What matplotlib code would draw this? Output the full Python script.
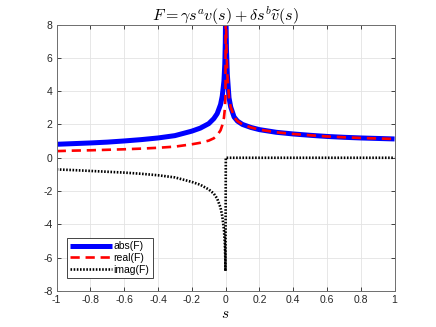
import numpy as np
import matplotlib
matplotlib.use("Agg")
import matplotlib.pyplot as plt

# ===============================
# data
# ===============================
s_left = [-1.0, -0.9, -0.8, -0.7, -0.6, -0.5, -0.4, -0.3, -0.2, -0.15, -0.1,
          -0.07, -0.05, -0.03, -0.02, -0.01, -0.005, -0.002, -0.001]
abs_left = [0.81, 0.85, 0.89, 0.94, 1.01, 1.09, 1.19, 1.33, 1.6, 1.78, 2.05,
            2.35, 2.65, 3.2, 3.7, 4.6, 5.6, 6.9, 7.9]
real_left = [0.40, 0.43, 0.45, 0.48, 0.51, 0.55, 0.60, 0.67, 0.81, 0.90, 1.03,
             1.17, 1.35, 1.65, 1.95, 2.4, 2.9, 3.5, 3.95]
imag_left = [-0.70, -0.74, -0.79, -0.84, -0.89, -0.96, -1.05, -1.18, -1.45,
             -1.62, -1.9, -2.15, -2.45, -3.0, -3.5, -4.3, -5.1, -6.0, -6.8]

s_right = [0.001, 0.002, 0.005, 0.01, 0.02, 0.03, 0.05, 0.07, 0.1, 0.15, 0.2,
           0.3, 0.4, 0.5, 0.6, 0.7, 0.8, 0.9, 1.0]
abs_right = [10.0, 8.4, 6.5, 5.0, 3.6, 3.05, 2.45, 2.2, 2.0, 1.82, 1.69,
             1.53, 1.43, 1.35, 1.28, 1.23, 1.19, 1.16, 1.13]
real_right = abs_right
imag_right = [0.0] * len(s_right)

s = np.array(s_left + s_right)
absF = np.array(abs_left + abs_right)
realF = np.array(real_left + real_right)
imagF = np.array(imag_left + imag_right)

xticks = np.round(np.arange(-1, 1.01, 0.2), 1)
xticklabels = ['-1', '-0.8', '-0.6', '-0.4', '-0.2', '0', '0.2', '0.4', '0.6', '0.8', '1']
yticks = np.arange(-8, 9, 2)

# ===============================
# plot (MATLAB-like look)
# ===============================
plt.rcParams['mathtext.fontset'] = 'cm'
plt.rcParams['axes.unicode_minus'] = False
plt.rcParams['font.family'] = ['Liberation Sans', 'DejaVu Sans']

fig = plt.figure(figsize=(4.36, 3.27), dpi=100)
ax = fig.add_axes([0.13, 0.11, 0.775, 0.815])

ax.plot(s, absF, color='#0000ff', lw=3.6, label='abs(F)', solid_capstyle='butt')
ax.plot(s, realF, color='#ff0000', lw=1.9, ls=(0, (3.5, 2.2)), label='real(F)')
ax.plot(s, imagF, color='black', lw=1.9, ls=(0, (0.6, 0.6)), label='imag(F)')

ax.set_xlim(-1, 1)
ax.set_ylim(-8, 8)
ax.set_xticks(xticks)
ax.set_xticklabels(xticklabels)
ax.set_yticks(yticks)
ax.tick_params(direction='in', length=3, width=0.6, labelsize=7.5,
               colors='#262626', top=True, right=True, pad=3)
for sp in ax.spines.values():
    sp.set_color('#6e6e6e')
    sp.set_linewidth(0.7)
ax.grid(True, color='#e3e3e3', lw=0.6)
ax.set_axisbelow(True)

ax.set_title(r'$F=\gamma s^a v(s)+\delta s^b \widetilde{v}(s)$', fontsize=11.5, pad=3)
ax.set_xlabel(r'$s$', fontsize=11, labelpad=1)

leg = ax.legend(loc='lower left', bbox_to_anchor=(0.03, 0.05), fontsize=7.5,
                handlelength=4.0, handletextpad=0.2, borderpad=0.3,
                labelspacing=0.15, fancybox=False, framealpha=1,
                borderaxespad=0)
leg.get_frame().set_edgecolor('#262626')
leg.get_frame().set_linewidth(0.6)

plt.savefig('out.png', dpi=100)
